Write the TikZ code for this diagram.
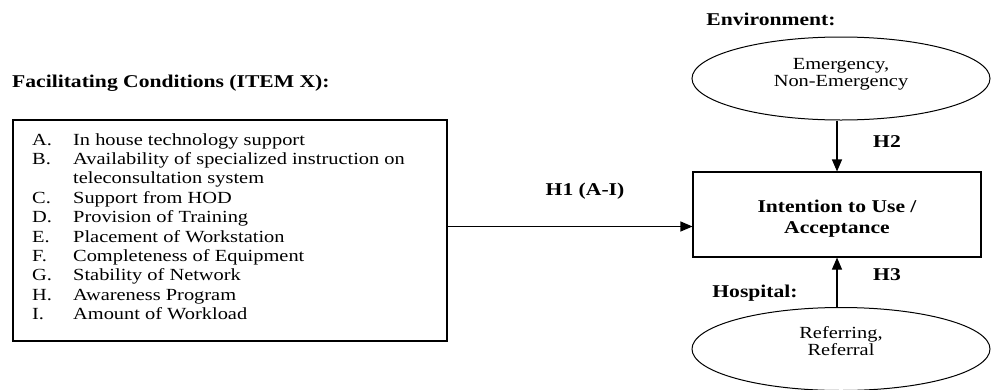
\documentclass[tikz,border=0pt]{standalone}
\usepackage{fontspec}
\setmainfont{Liberation Serif}[FakeStretch=1.2]
\usetikzlibrary{shapes.geometric,arrows.meta}
\begin{document}
\begin{tikzpicture}[x=1pt,y=-1pt,
  box/.style={draw, line width=1.1pt, inner sep=0pt},
  oval/.style={ellipse, draw, line width=1pt, inner sep=0pt, minimum width=298pt, minimum height=83pt, align=center, font=\fontsize{17}{17}\selectfont},
  hd/.style={inner sep=0pt, font=\fontsize{18}{21}\selectfont\bfseries},
  arr/.style={line width=1.1pt, -{Triangle[length=12pt,width=10pt]}}]
\useasboundingbox (0,0) rectangle (991,389);
% left block
\node[hd, anchor=west] (fctitle) at (12,83) {Facilitating Conditions (ITEM X):};
\node[box, minimum width=434pt, minimum height=221pt] (fc) at (230,230.5) {};
\node[anchor=base west, inner sep=0pt, font=\fontsize{17}{19.4}\selectfont] (items) at (32,145)
 {\begin{tabular}[t]{@{}p{41pt}@{}l@{}}
  A. & In house technology support\\
  B. & Availability of specialized instruction on\\
     & teleconsultation system\\
  C. & Support from HOD\\
  D. & Provision of Training\\
  E. & Placement of Workstation\\
  F. & Completeness of Equipment\\
  G. & Stability of Network\\
  H. & Awareness Program\\
  I. & Amount of Workload
 \end{tabular}};
% right block
\node[box, minimum width=288pt, minimum height=85pt, font=\fontsize{18}{21}\selectfont\bfseries] (intent) at (837,214.5)
 {\raisebox{-4pt}[\height][\depth]{\begin{tabular}{@{}c@{}}Intention to Use /\\Acceptance\end{tabular}}};
\node[hd] (envlabel) at (771,19) {Environment:};
\node[oval] (env) at (841,78.5)
 {\raisebox{4pt}[\height][\depth]{\begin{tabular}{@{}c@{}}Emergency,\\Non-Emergency\end{tabular}}};
\node[oval] (hosp) at (841,349)
 {\raisebox{5pt}[\height][\depth]{\begin{tabular}{@{}c@{}}Referring,\\Referral\end{tabular}}};
\node[hd] (hosplabel) at (755,293) {Hospital:};
% connectors
\draw[arr] ([yshift=4pt]fc.east) -- ([yshift=4pt]fc.east -| intent.west);
\draw[arr] (env.south -| intent.north) -- (intent.north);
\draw[arr] (hosp.north -| intent.south) -- (intent.south);
\node[hd] (h1) at (585,191) {H1 (A-I)};
\node[hd] (h2) at (887,142) {H2};
\node[hd] (h3) at (887,275) {H3};
\end{tikzpicture}
\end{document}
